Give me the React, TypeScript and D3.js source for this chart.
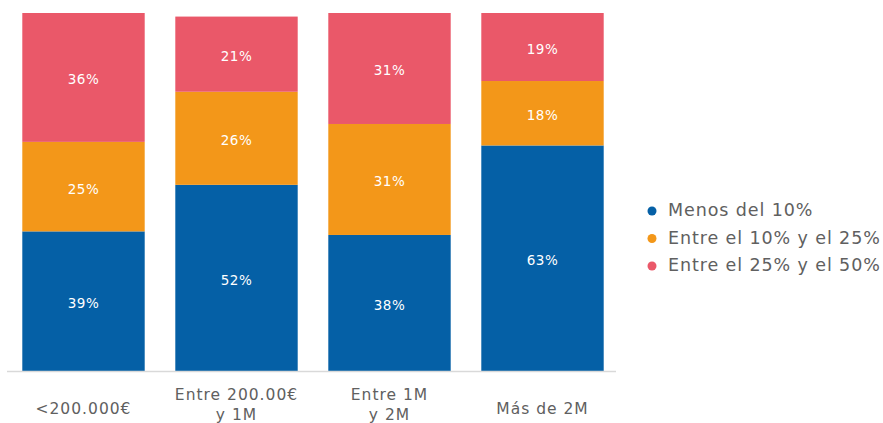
import * as d3 from "d3";
import { useEffect, useRef } from "react";

const categories = ["<200.000€", "Entre 200.00€\ny 1M", "Entre 1M\ny 2M", "Más de 2M"];
const menos10 = [39, 52, 38, 63];
const entre10y25 = [25, 26, 31, 18];
const entre25y50 = [36, 21, 31, 19];
const seriesNames = ["Menos del 10%", "Entre el 10% y el 25%", "Entre el 25% y el 50%"];
const colors = ["#0560a6", "#f39719", "#ea5869"];

const FONT = "'DejaVu Sans', sans-serif";

const App = () => {
  const svgRef = useRef<SVGSVGElement | null>(null);

  useEffect(() => {
    const width = 883;
    const height = 423;
    const svg = d3.select(svgRef.current).attr("width", width).attr("height", height);
    svg.selectAll("*").remove();

    const rows = categories.map((c, i) => ({
      cat: c,
      s0: menos10[i],
      s1: entre10y25[i],
      s2: entre25y50[i],
    }));
    const keys = ["s0", "s1", "s2"];
    const stacked = d3.stack<any>().keys(keys)(rows);

    const x = d3.scaleBand().domain(categories).range([7, 619]).paddingInner(0.2).paddingOuter(0.1);
    const y = d3.scaleLinear().domain([0, 100]).range([371, 13]);

    const layers = svg
      .selectAll("g.layer")
      .data(stacked)
      .enter()
      .append("g")
      .attr("class", "layer")
      .attr("fill", (_d, i) => colors[i]);

    layers
      .selectAll("rect")
      .data((d) => d)
      .enter()
      .append("rect")
      .attr("x", (d: any) => x(d.data.cat) as number)
      .attr("width", x.bandwidth())
      .attr("y", (d) => y(d[1]))
      .attr("height", (d) => y(d[0]) - y(d[1]));

    layers
      .selectAll("text")
      .data((d) => d)
      .enter()
      .append("text")
      .attr("x", (d: any) => (x(d.data.cat) as number) + x.bandwidth() / 2)
      .attr("y", (d) => (y(d[0]) + y(d[1])) / 2 + 3)
      .attr("text-anchor", "middle")
      .attr("dominant-baseline", "middle")
      .attr("fill", "#ffffff")
      .style("font-family", FONT)
      .style("font-size", "13.5px")
      .style("letter-spacing", "0.5px")
      .text((d) => `${d[1] - d[0]}%`);

    // axis line
    svg
      .append("line")
      .attr("x1", 7)
      .attr("x2", 616)
      .attr("y1", 371.5)
      .attr("y2", 371.5)
      .attr("stroke", "#d9d9d9")
      .attr("stroke-width", 1.5);

    // category labels
    categories.forEach((c) => {
      const lines = c.split("\n");
      const cx = (x(c) as number) + x.bandwidth() / 2;
      const t = svg
        .append("text")
        .attr("text-anchor", "middle")
        .attr("fill", "#606060")
        .style("font-family", FONT)
        .style("font-size", "15.5px")
        .style("letter-spacing", "1px");
      lines.forEach((l, i) => {
        const cy = lines.length === 1 ? 409 : 395 + i * 20.5;
        t.append("tspan").attr("x", cx).attr("y", cy).attr("dominant-baseline", "middle").text(l);
      });
    });

    // legend
    const legend = svg.append("g").attr("transform", "translate(652, 211)");
    seriesNames.forEach((n, i) => {
      const g = legend.append("g").attr("transform", `translate(0, ${i * 27.5})`);
      g.append("circle").attr("r", 4.5).attr("fill", colors[i]);
      g.append("text")
        .attr("x", 16)
        .attr("dominant-baseline", "middle")
        .attr("fill", "#606060")
        .style("font-family", FONT)
        .style("font-size", "17.5px")
        .style("letter-spacing", "0.9px")
        .text(n);
    });
  }, []);

  return <svg ref={svgRef} style={{ position: "absolute", left: 0, top: 0 }}></svg>;
};

export default App;
